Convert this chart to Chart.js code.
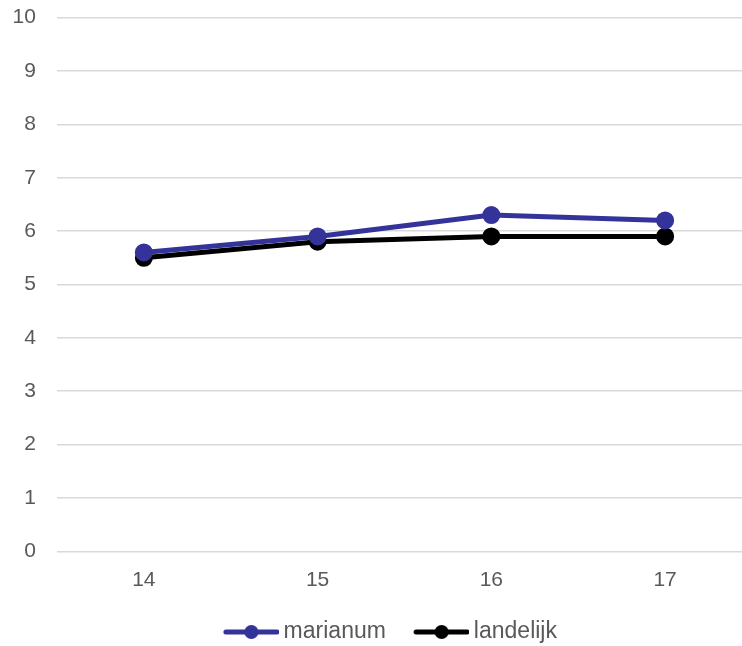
<!DOCTYPE html>
<html>
<head>
<meta charset="utf-8">
<script src="https://cdn.jsdelivr.net/npm/chart.js@4.4.1/dist/chart.umd.min.js"></script>
<style>
    html, body { margin: 0; padding: 0; background: #fff; overflow: hidden; }
    #wrap { width: 752px; height: 646px; }
</style>
</head>
<body>
<div id="wrap"><canvas id="chart" width="752" height="646"></canvas></div>
<script>
    // data
    const years = ['14', '15', '16', '17'];
    const marianum = [5.6, 5.9, 6.3, 6.2];
    const landelijk = [5.5, 5.8, 5.9, 5.9];

    const blue = '#333399';
    const black = '#000000';
    const textColor = '#595959';
    const font = 'Liberation Sans, Arial, sans-serif';

    // line + dot picture for the legend, it sticks out past the box on the right
    function legendMark(color) {
        const c = document.createElement('canvas');
        c.width = 62;
        c.height = 16;
        const ctx = c.getContext('2d');
        ctx.strokeStyle = color;
        ctx.lineWidth = 5;
        ctx.lineCap = 'round';
        ctx.beginPath();
        ctx.moveTo(9, 8);
        ctx.lineTo(60, 8);
        ctx.stroke();
        ctx.fillStyle = color;
        ctx.beginPath();
        ctx.arc(34.5, 8, 7, 0, Math.PI * 2);
        ctx.fill();
        return c;
    }

    const marks = [legendMark(blue), legendMark(black)];

    // legend sits a bit right of the middle in the original
    const legendShift = {
        id: 'legendShift',
        afterLayout(chart) {
            chart.legend.left += 21;
        }
    };

    new Chart(document.getElementById('chart'), {
        type: 'line',
        data: {
            labels: years,
            datasets: [
                {
                    label: 'marianum',
                    data: marianum,
                    borderColor: blue,
                    backgroundColor: blue,
                    borderWidth: 5,
                    pointRadius: 6.5,
                    pointHoverRadius: 6.5,
                    tension: 0
                },
                {
                    label: 'landelijk',
                    data: landelijk,
                    borderColor: black,
                    backgroundColor: black,
                    borderWidth: 5,
                    pointRadius: 6.5,
                    pointHoverRadius: 6.5,
                    tension: 0
                }
            ]
        },
        plugins: [legendShift],
        options: {
            responsive: false,
            animation: false,
            layout: {
                autoPadding: false,
                padding: {left: 7.6, right: 0, top: 0, bottom: -7.5}
            },
            plugins: {
                tooltip: {enabled: false},
                legend: {
                    position: 'bottom',
                    labels: {
                        color: textColor,
                        font: {family: font, size: 23},
                        usePointStyle: true,
                        pointStyleWidth: 48.5,
                        padding: 28,
                        generateLabels(chart) {
                            return chart.data.datasets.map((ds, i) => ({
                                text: ds.label,
                                fillStyle: ds.borderColor,
                                strokeStyle: ds.borderColor,
                                fontColor: textColor,
                                lineWidth: 0,
                                pointStyle: marks[i],
                                datasetIndex: i,
                                hidden: false
                            }));
                        }
                    }
                }
            },
            scales: {
                x: {
                    offset: true,
                    grid: {display: true, drawOnChartArea: false, drawTicks: true, tickLength: 16, tickColor: 'rgba(0,0,0,0)'},
                    border: {display: false},
                    ticks: {
                        color: textColor,
                        font: {family: font, size: 21},
                        padding: 0
                    },
                    afterFit(scale) {
                        scale.paddingLeft = 0;
                        scale.paddingRight = 0;
                    }
                },
                y: {
                    min: 0,
                    max: 10,
                    grid: {color: '#d9d9d9', lineWidth: 1.5, drawTicks: true, tickLength: 16, tickColor: 'rgba(0,0,0,0)'},
                    border: {display: false},
                    ticks: {
                        stepSize: 1,
                        color: textColor,
                        font: {family: font, size: 21},
                        padding: 5
                    }
                }
            }
        }
    });
</script>
</body>
</html>
